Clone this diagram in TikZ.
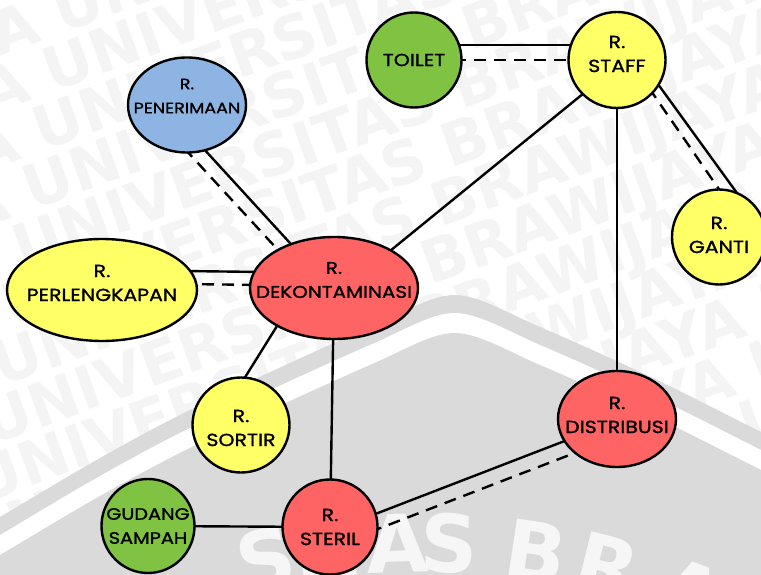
\documentclass[tikz,border=0pt]{standalone}
\usepackage{fontspec}
\setmainfont{Poppins}[FakeStretch=1.17, FakeBold=1.2]
\newfontfamily\wmfont{DejaVu Sans}
\usetikzlibrary{shapes.geometric,calc,backgrounds}
\pgfdeclarelayer{wm}
\pgfsetlayers{wm,background,main}

\definecolor{roomyellow}{HTML}{FFFF66}
\definecolor{roomred}{HTML}{FF6464}
\definecolor{roomgreen}{HTML}{80C342}
\definecolor{roomblue}{HTML}{8DB4E2}
\definecolor{wmgray}{gray}{0.855}
\definecolor{wmtext}{gray}{0.958}
\definecolor{wmlight}{gray}{0.965}

\tikzset{
  room/.style={ellipse, draw=black, line width=2.4pt, inner sep=0pt},
  roomtext/.style={font=\fontsize{17.5}{24}\selectfont, align=center, text=black, inner sep=0pt},
  link/.style={line width=2.4pt, line cap=round},
  dashlink/.style={line width=2.4pt, dash pattern=on 12pt off 8pt},
  wmrow/.style={rotate=20, text=wmtext, inner sep=0pt,
    font=\wmfont\bfseries\fontsize{60}{60}\selectfont},
  wmletter/.style={text=wmlight, inner sep=0pt, anchor=base,
    font=\wmfont\bfseries\fontsize{80}{80}\selectfont},
}

\begin{document}
\begin{tikzpicture}[x=1pt,y=1pt]
\useasboundingbox (0,0) rectangle (761,574);

% ---------- rooms ----------
\node[room, fill=roomblue, minimum width=118pt, minimum height=95pt,
  label={[roomtext, font=\fontsize{15}{24}\selectfont, yshift=9pt]center:{R.\\PENERIMAAN}}] (pen) at (187,469) {};
\node[room, fill=roomgreen, minimum width=95pt, minimum height=95pt,
  label={[roomtext]center:{TOILET}}] (toilet) at (414,514) {};
\node[room, fill=roomyellow, minimum width=97pt, minimum height=96pt,
  label={[roomtext, yshift=6pt]center:{R.\\STAFF}}] (staff) at (617,514) {};
\node[room, fill=roomyellow, minimum width=94pt, minimum height=95pt,
  label={[roomtext, yshift=2pt]center:{R.\\GANTI}}] (ganti) at (719,337) {};
\node[room, fill=roomyellow, minimum width=190pt, minimum height=102pt,
  label={[roomtext, yshift=7pt]center:{R.\\PERLENGKAPAN}}] (perl) at (102,284) {};
\node[room, fill=roomred, minimum width=168pt, minimum height=102pt,
  label={[roomtext, font=\fontsize{17}{24}\selectfont, yshift=8pt]center:{R.\\DEKONTAMINASI}}] (dek) at (334,286) {};
\node[room, fill=roomyellow, minimum width=97pt, minimum height=95pt,
  label={[roomtext, yshift=-3pt]center:{R.\\SORTIR}}] (sortir) at (241,149) {};
\node[room, fill=roomred, minimum width=118pt, minimum height=96pt,
  label={[roomtext, yshift=4pt]center:{R.\\DISTRIBUSI}}] (dist) at (617,155) {};
\node[room, fill=roomred, minimum width=95pt, minimum height=95pt,
  label={[roomtext]center:{R.\\STERIL}}] (steril) at (330,47) {};
\node[room, fill=roomgreen, minimum width=93pt, minimum height=94pt,
  label={[roomtext, font=\fontsize{16.5}{24}\selectfont]center:{GUDANG\\SAMPAH}}] (gudang) at (148,48) {};

% ---------- connections ----------
\begin{pgfonlayer}{background}
  \draw[link]     ($(toilet.center)+(0,15)$) -- ($(staff.center)+(0,15)$);
  \draw[dashlink] (toilet.center) -- (staff.center);
  \draw[link]     ($(staff.center)+(38,-20)$) -- ($(ganti.center)+(23,37)$);
  \draw[dashlink] ($(staff.center)+(32,-28)$) -- ($(ganti.center)+(4,42)$);
  \draw[link]     ($(staff.center)+(-33,-33)$) -- ($(dek.center)+(40,24)$);
  \draw[link]     (staff.center) -- (dist.center);
  \draw[link]     ($(pen.center)+(16,-43)$) -- ($(dek.center)+(-34,34)$);
  \draw[dashlink] ($(pen.center)+(-3,-43)$) -- ($(dek.center)+(-44,25)$);
  \draw[link]     ($(perl.center)+(80,19)$) -- ($(dek.center)+(-70,16)$);
  \draw[dashlink] ($(perl.center)+(80,6)$) -- ($(dek.center)+(-70,3)$);
  \draw[link]     ($(dek.center)+(-52,-30)$) -- ($(sortir.center)+(-2,38)$);
  \draw[link]     (dek.center) -- (steril.center);
  \draw[link]     (gudang.center) -- (steril.center);
  \draw[link]     ($(steril.center)+(35,9)$) -- ($(dist.center)+(-42,-18)$);
  \draw[dashlink] ($(steril.center)+(40,-5)$) -- ($(dist.center)+(-32,-30)$);
\end{pgfonlayer}

% ---------- watermark ----------
\begin{pgfonlayer}{wm}
\begin{scope}
  \clip (0,0) rectangle (761,574);
  \fill[white] (0,0) rectangle (761,574);
  \foreach \i in {-7,...,7} {
    \node[wmrow] (wmrow\i) at ($(380,287)+\i*(-17.8,48.9)+\i*(28,10)$)
      {UNIVERSITAS BRAWIJAYA UNIVERSITAS BRAWIJAYA UNIVERSITAS BRAWIJAYA};
  }
  \def\crest{plot[smooth] coordinates {(-10,52) (0,57) (100,116) (200,169)
      (370,247) (455,279) (540,247) (653,196) (761,142) (771,137)}
      -- (771,-10) -- (-10,-10) -- cycle}
  \fill[wmgray] \crest;
  \fill[white, yshift=-18pt] \crest;
  \fill[wmgray, yshift=-38pt] \crest;
  \begin{scope}[yshift=5pt]
    \node[wmletter, rotate=11.7]  (wmS1) at (272,-18.2) {S};
    \node[wmletter, rotate=8.5]   (wmI)  at (312,-11.0) {I};
    \node[wmletter, rotate=5.5]   (wmT)  at (350,-6.4)  {T};
    \node[wmletter, rotate=1.7]   (wmA1) at (398,-3.3)  {A};
    \node[wmletter, rotate=-2.0]  (wmS2) at (448,-3.5)  {S};
    \node[wmletter, rotate=-8.7]  (wmB)  at (532,-11.3) {B};
    \node[wmletter, rotate=-14.1] (wmR)  at (600,-25.1) {R};
    \node[wmletter, rotate=-20.9] (wmA2) at (680,-50.9) {A};
  \end{scope}
\end{scope}
\end{pgfonlayer}
\end{tikzpicture}
\end{document}
